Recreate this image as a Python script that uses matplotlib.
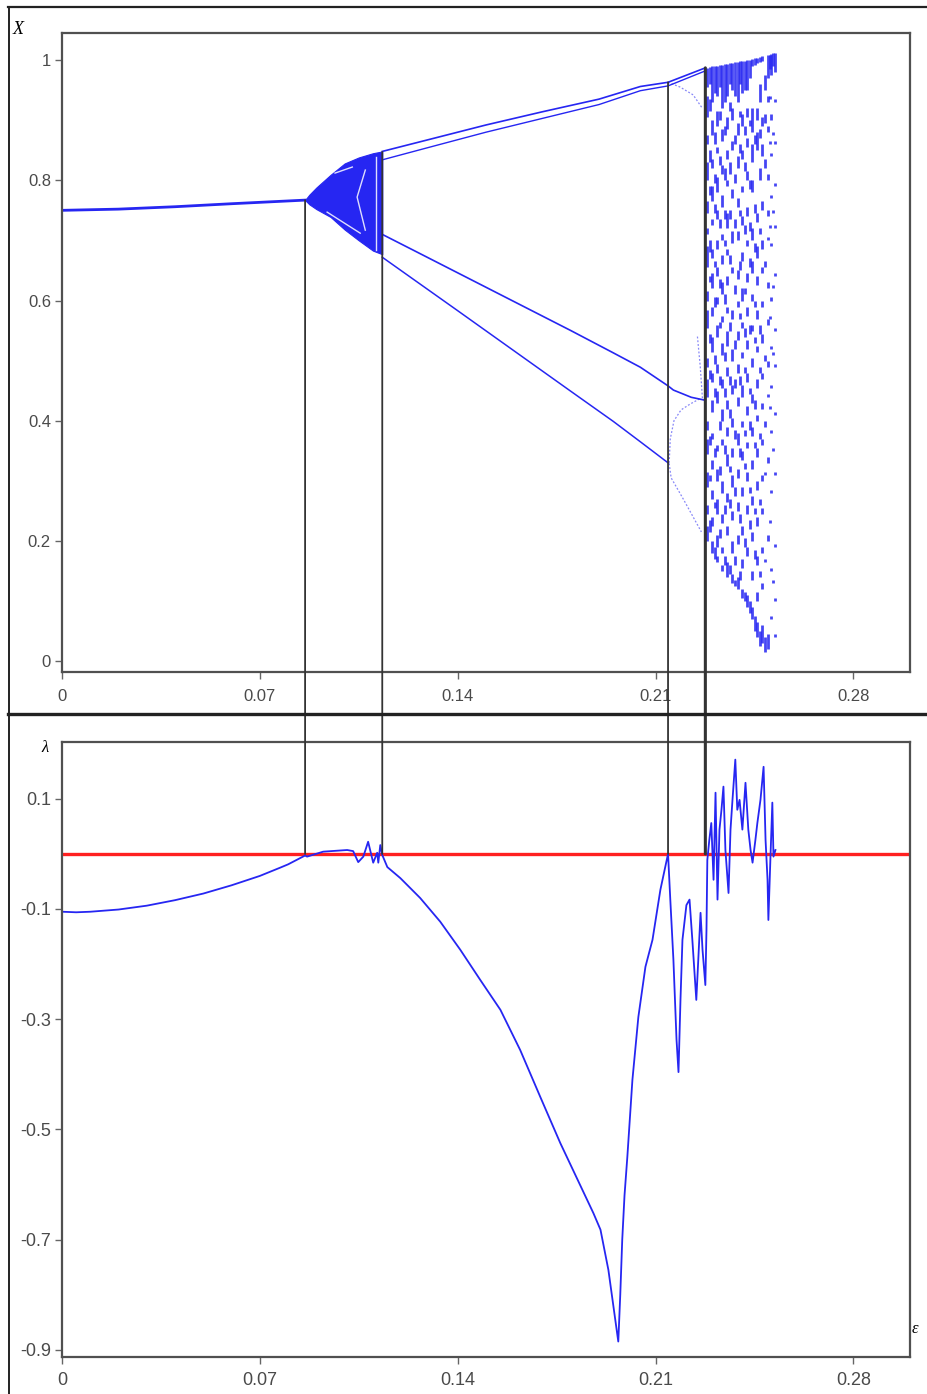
import matplotlib
matplotlib.use('Agg')
import matplotlib.pyplot as plt
from matplotlib.patches import ConnectionPatch
from matplotlib.lines import Line2D

BLUE = '#2626f2'
FRAME = '#505050'
TICKTXT = '#4a4a4a'

# --- bifurcation diagram (top) ---
# stable fixed point before the first crisis
fix_eps = [0.0, 0.02, 0.04, 0.06, 0.0860]
fix_x = [0.750, 0.752, 0.756, 0.761, 0.767]

# first chaotic band, outer edges
band_eps = [0.0860, 0.0875, 0.0900, 0.0950, 0.1000, 0.1050, 0.1100, 0.1133]
band_top = [0.767, 0.776, 0.788, 0.809, 0.828, 0.838, 0.845, 0.848]
band_bot = [0.767, 0.760, 0.752, 0.739, 0.718, 0.700, 0.683, 0.677]

# windows (gaps) inside the band
gap_eps = [[0.0938, 0.1055], [0.1073, 0.1044, 0.1073], [0.1112, 0.1112], [0.0966, 0.1027]]
gap_x = [[0.747, 0.712], [0.817, 0.772, 0.717], [0.839, 0.684], [0.812, 0.822]]

# periodic branches between the two chaotic regions
up_eps = [0.1133, 0.13, 0.15, 0.17, 0.19, 0.2046, 0.2144, 0.2276]
up_a = [0.848, 0.868, 0.892, 0.914, 0.935, 0.956, 0.963, 0.987]
up_b = [0.834, 0.855, 0.880, 0.903, 0.926, 0.949, 0.957, 0.982]

lo_a_eps = [0.1133, 0.125, 0.14, 0.16, 0.18, 0.195, 0.2046, 0.2144, 0.2163, 0.2226, 0.2276]
lo_a = [0.710, 0.682, 0.646, 0.598, 0.550, 0.513, 0.489, 0.458, 0.451, 0.439, 0.434]

lo_b_eps = [0.1133, 0.125, 0.14, 0.16, 0.18, 0.195, 0.2046, 0.2144]
lo_b = [0.672, 0.633, 0.583, 0.516, 0.449, 0.399, 0.365, 0.330]

# faint dotted branches between lines 3 and 4
faint_eps = [[0.2148, 0.2155, 0.2200, 0.2262],
             [0.2148, 0.2152, 0.2165, 0.2190, 0.2223, 0.2258],
             [0.2144, 0.2187, 0.2233, 0.2265],
             [0.2248, 0.2258, 0.2266]]
faint_x = [[0.329, 0.305, 0.268, 0.215],
           [0.330, 0.370, 0.400, 0.418, 0.428, 0.437],
           [0.963, 0.955, 0.942, 0.920],
           [0.540, 0.490, 0.435]]

# fully developed chaos: runs of visited states per column
chaos_eps = [0.2283, 0.2300, 0.2318, 0.2336, 0.2354, 0.2372, 0.2390, 0.2407,
             0.2425, 0.2442, 0.2460, 0.2478, 0.2496, 0.2510, 0.2522]
chaos_runs = [
    [(0.955, 0.987), (0.905, 0.94), (0.86, 0.875), (0.80, 0.83), (0.745, 0.765), (0.71, 0.72),
     (0.655, 0.69), (0.60, 0.615), (0.555, 0.585), (0.49, 0.505), (0.44, 0.47), (0.385, 0.40),
     (0.345, 0.37), (0.29, 0.315), (0.245, 0.26), (0.20, 0.225)],
    [(0.93, 0.99), (0.875, 0.90), (0.82, 0.835), (0.765, 0.79), (0.725, 0.735), (0.67, 0.685),
     (0.62, 0.645), (0.575, 0.59), (0.515, 0.54), (0.465, 0.48), (0.415, 0.435), (0.37, 0.38),
     (0.32, 0.335), (0.27, 0.285), (0.225, 0.24), (0.18, 0.20)],
    [(0.94, 0.99), (0.89, 0.915), (0.845, 0.855), (0.78, 0.805), (0.735, 0.75), (0.685, 0.70),
     (0.64, 0.655), (0.595, 0.605), (0.54, 0.56), (0.48, 0.495), (0.43, 0.45), (0.35, 0.36),
     (0.30, 0.32), (0.245, 0.27), (0.19, 0.21), (0.165, 0.175)],
    [(0.92, 0.992), (0.865, 0.885), (0.81, 0.825), (0.755, 0.775), (0.70, 0.71), (0.66, 0.675),
     (0.61, 0.63), (0.565, 0.575), (0.51, 0.53), (0.455, 0.47), (0.40, 0.42), (0.36, 0.37),
     (0.28, 0.30), (0.23, 0.245), (0.18, 0.19), (0.15, 0.16)],
    [(0.94, 0.994), (0.885, 0.905), (0.835, 0.85), (0.79, 0.80), (0.72, 0.745), (0.675, 0.685),
     (0.625, 0.64), (0.58, 0.59), (0.525, 0.55), (0.475, 0.49), (0.42, 0.435), (0.375, 0.39),
     (0.325, 0.345), (0.265, 0.28), (0.21, 0.225), (0.14, 0.165)],
    [(0.95, 0.995), (0.90, 0.92), (0.85, 0.865), (0.77, 0.785), (0.695, 0.715), (0.645, 0.655),
     (0.57, 0.585), (0.50, 0.52), (0.445, 0.46), (0.39, 0.405), (0.34, 0.355), (0.29, 0.31),
     (0.235, 0.25), (0.18, 0.20), (0.13, 0.145)],
    [(0.93, 0.997), (0.875, 0.895), (0.82, 0.84), (0.755, 0.77), (0.70, 0.715), (0.635, 0.65),
     (0.59, 0.60), (0.535, 0.55), (0.48, 0.495), (0.425, 0.44), (0.36, 0.38), (0.305, 0.32),
     (0.25, 0.265), (0.195, 0.21), (0.12, 0.14)],
    [(0.945, 0.998), (0.89, 0.91), (0.835, 0.85), (0.78, 0.79), (0.725, 0.74), (0.665, 0.68),
     (0.60, 0.62), (0.555, 0.565), (0.505, 0.515), (0.44, 0.46), (0.39, 0.40), (0.335, 0.35),
     (0.275, 0.29), (0.21, 0.225), (0.155, 0.17), (0.105, 0.12)],
    [(0.95, 1.0), (0.905, 0.92), (0.855, 0.87), (0.80, 0.815), (0.74, 0.755), (0.69, 0.70),
     (0.63, 0.645), (0.575, 0.59), (0.52, 0.535), (0.465, 0.48), (0.41, 0.425), (0.355, 0.365),
     (0.30, 0.315), (0.245, 0.26), (0.175, 0.19), (0.09, 0.11)],
    [(0.99, 1.001), (0.88, 0.92), (0.83, 0.86), (0.78, 0.80), (0.70, 0.72), (0.645, 0.665),
     (0.60, 0.61), (0.55, 0.56), (0.49, 0.505), (0.43, 0.445), (0.375, 0.39), (0.32, 0.335),
     (0.26, 0.275), (0.20, 0.215), (0.135, 0.15), (0.07, 0.09)],
    [(0.995, 1.004), (0.90, 0.92), (0.85, 0.88), (0.73, 0.745), (0.67, 0.69), (0.625, 0.64),
     (0.57, 0.585), (0.515, 0.525), (0.455, 0.47), (0.40, 0.41), (0.34, 0.355), (0.285, 0.30),
     (0.225, 0.24), (0.16, 0.175), (0.10, 0.115), (0.04, 0.065)],
    [(0.998, 1.006), (0.89, 0.905), (0.84, 0.86), (0.75, 0.765), (0.685, 0.70), (0.645, 0.655),
     (0.59, 0.60), (0.53, 0.545), (0.47, 0.48), (0.42, 0.43), (0.36, 0.37), (0.30, 0.31),
     (0.245, 0.255), (0.18, 0.19), (0.12, 0.13), (0.03, 0.06)],
    [(0.97, 1.008), (0.93, 0.94), (0.88, 0.89), (0.80, 0.81), (0.74, 0.75), (0.70, 0.705),
     (0.62, 0.63), (0.56, 0.57), (0.49, 0.50), (0.44, 0.445), (0.33, 0.34), (0.20, 0.21),
     (0.02, 0.045)],
    [(0.975, 1.01), (0.90, 0.91), (0.84, 0.845), (0.77, 0.775), (0.69, 0.695), (0.60, 0.605),
     (0.52, 0.525), (0.455, 0.46), (0.38, 0.385), (0.28, 0.285), (0.15, 0.155), (0.07, 0.075)],
    [(0.98, 1.012), (0.93, 0.935), (0.86, 0.865), (0.79, 0.795), (0.72, 0.725), (0.64, 0.645),
     (0.55, 0.555), (0.49, 0.495), (0.41, 0.415), (0.31, 0.315), (0.19, 0.195), (0.10, 0.105),
     (0.04, 0.045)],
]

# second, interleaved set of columns
chaos_eps2 = [0.2292, 0.2309, 0.2327, 0.2345, 0.2363, 0.2381, 0.2398, 0.2416,
              0.2434, 0.2451, 0.2469, 0.2487, 0.2503, 0.2516]
chaos_runs2 = [
    [(0.96, 0.988), (0.915, 0.935), (0.83, 0.85), (0.775, 0.79), (0.68, 0.70), (0.63, 0.64),
     (0.53, 0.545), (0.47, 0.485), (0.36, 0.375), (0.30, 0.31), (0.215, 0.235)],
    [(0.945, 0.99), (0.86, 0.88), (0.795, 0.81), (0.745, 0.76), (0.655, 0.665), (0.59, 0.605),
     (0.495, 0.51), (0.44, 0.455), (0.34, 0.355), (0.255, 0.265), (0.17, 0.19)],
    [(0.955, 0.991), (0.90, 0.915), (0.825, 0.84), (0.72, 0.735), (0.62, 0.635), (0.555, 0.565),
     (0.46, 0.475), (0.385, 0.40), (0.31, 0.325), (0.205, 0.22)],
    [(0.93, 0.993), (0.875, 0.89), (0.80, 0.82), (0.735, 0.75), (0.69, 0.70), (0.595, 0.61),
     (0.50, 0.515), (0.44, 0.455), (0.345, 0.36), (0.245, 0.26), (0.16, 0.175)],
    [(0.96, 0.995), (0.915, 0.93), (0.81, 0.83), (0.735, 0.75), (0.66, 0.675), (0.55, 0.565),
     (0.46, 0.475), (0.405, 0.42), (0.315, 0.325), (0.255, 0.27), (0.145, 0.16)],
    [(0.94, 0.996), (0.86, 0.875), (0.795, 0.81), (0.72, 0.735), (0.61, 0.625), (0.52, 0.535),
     (0.455, 0.47), (0.37, 0.385), (0.275, 0.29), (0.16, 0.175), (0.125, 0.135)],
    [(0.96, 0.998), (0.905, 0.915), (0.845, 0.86), (0.74, 0.75), (0.65, 0.665), (0.57, 0.58),
     (0.46, 0.475), (0.34, 0.355), (0.23, 0.245), (0.135, 0.15)],
    [(0.95, 0.999), (0.875, 0.89), (0.815, 0.83), (0.71, 0.725), (0.61, 0.62), (0.54, 0.555),
     (0.48, 0.49), (0.375, 0.385), (0.32, 0.33), (0.19, 0.205), (0.10, 0.115)],
    [(0.97, 1.0), (0.89, 0.90), (0.785, 0.80), (0.715, 0.73), (0.655, 0.67), (0.545, 0.56),
     (0.445, 0.455), (0.385, 0.40), (0.28, 0.29), (0.22, 0.235), (0.08, 0.10)],
    [(0.992, 1.003), (0.86, 0.875), (0.745, 0.76), (0.68, 0.695), (0.59, 0.60), (0.53, 0.54),
     (0.42, 0.435), (0.355, 0.365), (0.245, 0.255), (0.17, 0.185), (0.05, 0.075)],
    [(0.996, 1.005), (0.93, 0.96), (0.87, 0.885), (0.80, 0.82), (0.71, 0.72), (0.545, 0.56),
     (0.48, 0.49), (0.37, 0.38), (0.26, 0.27), (0.14, 0.15), (0.025, 0.05)],
    [(0.95, 0.975), (0.895, 0.91), (0.82, 0.835), (0.655, 0.665), (0.50, 0.51), (0.39, 0.40),
     (0.31, 0.315), (0.165, 0.17), (0.015, 0.04)],
    [(0.985, 1.009), (0.935, 0.94), (0.86, 0.865), (0.72, 0.725), (0.57, 0.575), (0.42, 0.425),
     (0.23, 0.235)],
    [(0.99, 1.011), (0.875, 0.88), (0.745, 0.75), (0.62, 0.625), (0.51, 0.515), (0.35, 0.355),
     (0.13, 0.135)],
]

# --- Lyapunov exponent (bottom) ---
lam_eps = [0.0, 0.005, 0.010, 0.020, 0.030, 0.040, 0.050, 0.060, 0.070, 0.0772, 0.080, 0.0860,
           0.0867, 0.0924, 0.1009, 0.1030, 0.1048, 0.1066, 0.1083, 0.1101, 0.1115, 0.1119,
           0.1126, 0.1133,
           0.1151, 0.1197, 0.1267, 0.1338, 0.1409, 0.1480, 0.1551, 0.1621, 0.1692, 0.1763,
           0.1880, 0.1905, 0.1933, 0.1968,
           0.1975, 0.1982, 0.1990, 0.2000, 0.2018, 0.2039, 0.2064, 0.2089, 0.2117, 0.2144,
           0.2152, 0.2163, 0.2174, 0.2181, 0.2188, 0.2195, 0.2209, 0.2220, 0.2230, 0.2244,
           0.2251, 0.2259, 0.2266, 0.2276, 0.2280, 0.2283, 0.2290, 0.2297, 0.2305, 0.2312,
           0.2319, 0.2326, 0.2333, 0.2340, 0.2347, 0.2358, 0.2365, 0.2372, 0.2382, 0.2389,
           0.2397, 0.2407, 0.2418, 0.2428, 0.2436, 0.2443, 0.2453, 0.2460, 0.2471, 0.2482,
           0.2489, 0.2496, 0.2499, 0.2506, 0.2513, 0.2517, 0.2524]
lam_val = [-0.105, -0.106, -0.105, -0.101, -0.094, -0.084, -0.072, -0.057, -0.040, -0.025,
           -0.019, -0.003,
           -0.005, 0.004, 0.007, 0.005, -0.015, -0.005, 0.022, -0.016, 0.002, -0.016,
           0.016, -0.002,
           -0.024, -0.044, -0.080, -0.123, -0.174, -0.229, -0.283, -0.356, -0.441, -0.525,
           -0.652, -0.682, -0.755, -0.885,
           -0.80, -0.70, -0.62, -0.550, -0.410, -0.296, -0.205, -0.156, -0.065, 0.0,
           -0.083, -0.192, -0.337, -0.396, -0.265, -0.156, -0.093, -0.083, -0.156, -0.265,
           -0.192, -0.107, -0.174, -0.238, -0.138, -0.011, 0.025, 0.056, -0.047, 0.111,
           -0.083, 0.044, 0.080, 0.122, 0.007, -0.071, 0.044, 0.098, 0.171, 0.080,
           0.098, 0.044, 0.129, 0.044, 0.007, -0.016, 0.025, 0.056, 0.098, 0.158,
           0.025, -0.047, -0.120, -0.011, 0.093, -0.005, 0.007]

# marked crisis points: epsilon, state on the diagram
mark_eps = [0.0860, 0.1133, 0.2144, 0.2276]
mark_x = [0.767, 0.847, 0.963, 0.987]
mark_lw = [1.3, 1.3, 1.3, 2.2]

xticks = [0, 0.07, 0.14, 0.21, 0.28]
xtick_labels = ['0', '0.07', '0.14', '0.21', '0.28']
top_yticks = [0, 0.2, 0.4, 0.6, 0.8, 1.0]
top_ylabels = ['0', '0.2', '0.4', '0.6', '0.8', '1']
bot_yticks = [0.1, -0.1, -0.3, -0.5, -0.7, -0.9]
bot_ylabels = ['0.1', '-0.1', '-0.3', '-0.5', '-0.7', '-0.9']

plt.rcParams['font.family'] = ['Liberation Sans', 'DejaVu Sans']
fig = plt.figure(figsize=(9.28, 13.94), dpi=100)
ax1 = fig.add_axes([62 / 928, 1 - 672 / 1394, 848 / 928, 639 / 1394])
ax2 = fig.add_axes([62 / 928, 1 - 1357 / 1394, 848 / 928, 615 / 1394])


def style_axes(ax, labelsize, xpad):
    for s in ax.spines.values():
        s.set_color(FRAME)
        s.set_linewidth(1.6)
    ax.tick_params(direction='out', length=5, width=1, color='#666666',
                   labelcolor=TICKTXT, labelsize=labelsize, pad=3)
    ax.tick_params(axis='x', pad=xpad)
    ax.set_xlim(0, 0.30)
    ax.set_xticks(xticks)
    ax.set_xticklabels(xtick_labels)


# top panel
style_axes(ax1, 12, 7)
ax1.set_ylim(-0.018, 1.045)
ax1.set_yticks(top_yticks)
ax1.set_yticklabels(top_ylabels)

ax1.plot(fix_eps, fix_x, color=BLUE, lw=2.0)
ax1.fill_between(band_eps, band_bot, band_top, color=BLUE, lw=0.8, edgecolor=BLUE)
for ge, gx in zip(gap_eps, gap_x):
    ax1.plot(ge, gx, color='white', lw=1.0, alpha=0.85)
ax1.plot(up_eps, up_a, color=BLUE, lw=1.2)
ax1.plot(up_eps, up_b, color=BLUE, lw=1.0)
ax1.plot(lo_a_eps, lo_a, color=BLUE, lw=1.2)
ax1.plot(lo_b_eps, lo_b, color=BLUE, lw=1.1)
for fe, fx in zip(faint_eps, faint_x):
    ax1.plot(fe, fx, color=BLUE, lw=0.9, ls=(0, (1.5, 1.5)), alpha=0.55)

seg_x, seg_lo, seg_hi = [], [], []
for cols, runs_all in ((chaos_eps, chaos_runs), (chaos_eps2, chaos_runs2)):
    for e, runs in zip(cols, runs_all):
        for lo, hi in runs:
            seg_x.append(e)
            seg_lo.append(lo)
            seg_hi.append(hi)
ax1.vlines(seg_x, seg_lo, seg_hi, color=BLUE, lw=2.0, alpha=0.85)

# bottom panel
style_axes(ax2, 13, 6)
ax2.set_ylim(-0.913, 0.203)
ax2.set_yticks(bot_yticks)
ax2.set_yticklabels(bot_ylabels)
ax2.axhline(0, color='#ff2020', lw=2.4, zorder=1)
ax2.plot(lam_eps, lam_val, color=BLUE, lw=1.3, zorder=2)

# vertical guides from the diagram down to lambda = 0
for e, x, w in zip(mark_eps, mark_x, mark_lw):
    con = ConnectionPatch(xyA=(e, x), coordsA=ax1.transData,
                          xyB=(e, 0), coordsB=ax2.transData,
                          color='#333333', lw=w)
    fig.add_artist(con)

# page frame lines
fig.add_artist(Line2D([8 / 928, 1], [1 - 7 / 1394] * 2, color='#222222', lw=1.6))
fig.add_artist(Line2D([9 / 928] * 2, [1 - 7 / 1394, 0], color='#222222', lw=1.4))
fig.add_artist(Line2D([8 / 928, 1], [1 - 714 / 1394] * 2, color='#222222', lw=2.4))

serif = ['Liberation Serif', 'DejaVu Serif']
fig.text(13 / 928, 1 - 29 / 1394, 'X', family=serif, style='italic', fontsize=13,
         va='center', ha='left')
fig.text(45 / 928, 1 - 748 / 1394, 'λ', family=serif, style='italic', fontsize=12,
         va='center', ha='center')
fig.text(915 / 928, 1 - 1329 / 1394, 'ε', family=serif, style='italic', fontsize=12,
         va='center', ha='center')

fig.savefig('out.png', dpi=100)
